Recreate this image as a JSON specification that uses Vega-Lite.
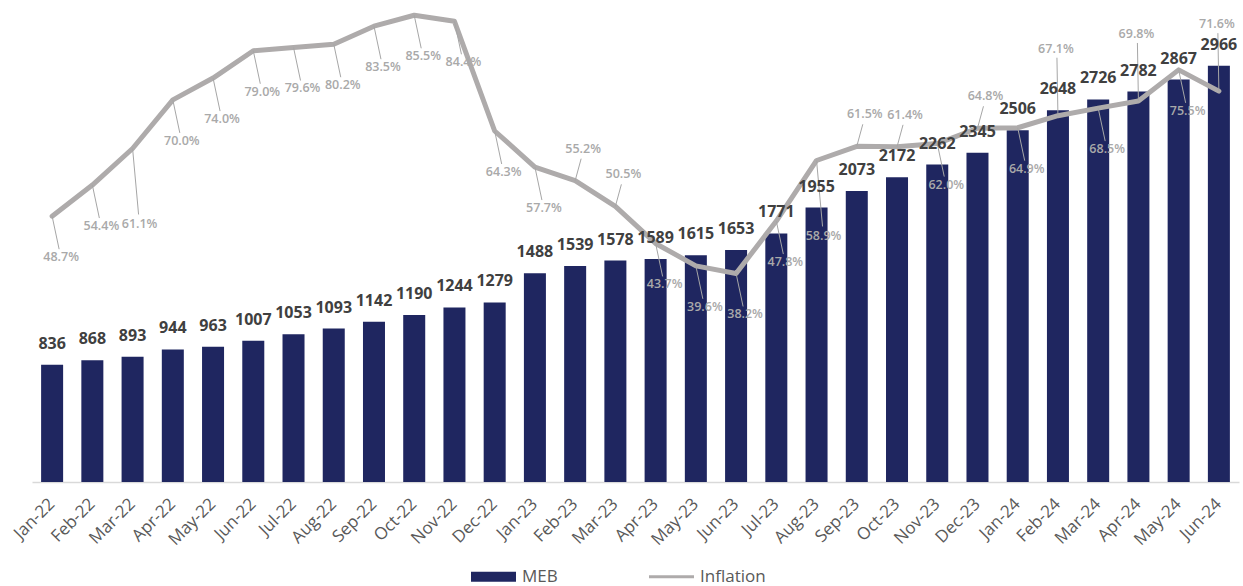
{
  "$schema": "https://vega.github.io/schema/vega-lite/v6.json",
  "width": 1207,
  "height": 482,
  "autosize": {"type": "none"},
  "padding": {"left": 32, "top": 0, "right": 4, "bottom": 104},
  "background": "white",
  "config": {"view": {"stroke": null}, "font": "Open Sans"},
  "data": {"values": [
    {"month": "Jan-22", "meb": 836, "infl": 0.487},
    {"month": "Feb-22", "meb": 868, "infl": 0.544},
    {"month": "Mar-22", "meb": 893, "infl": 0.611},
    {"month": "Apr-22", "meb": 944, "infl": 0.700},
    {"month": "May-22", "meb": 963, "infl": 0.740},
    {"month": "Jun-22", "meb": 1007, "infl": 0.790},
    {"month": "Jul-22", "meb": 1053, "infl": 0.796},
    {"month": "Aug-22", "meb": 1093, "infl": 0.802},
    {"month": "Sep-22", "meb": 1142, "infl": 0.835},
    {"month": "Oct-22", "meb": 1190, "infl": 0.855},
    {"month": "Nov-22", "meb": 1244, "infl": 0.844},
    {"month": "Dec-22", "meb": 1279, "infl": 0.643},
    {"month": "Jan-23", "meb": 1488, "infl": 0.577},
    {"month": "Feb-23", "meb": 1539, "infl": 0.552},
    {"month": "Mar-23", "meb": 1578, "infl": 0.505},
    {"month": "Apr-23", "meb": 1589, "infl": 0.437},
    {"month": "May-23", "meb": 1615, "infl": 0.396},
    {"month": "Jun-23", "meb": 1653, "infl": 0.382},
    {"month": "Jul-23", "meb": 1771, "infl": 0.478},
    {"month": "Aug-23", "meb": 1955, "infl": 0.589},
    {"month": "Sep-23", "meb": 2073, "infl": 0.615},
    {"month": "Oct-23", "meb": 2172, "infl": 0.614},
    {"month": "Nov-23", "meb": 2262, "infl": 0.620},
    {"month": "Dec-23", "meb": 2345, "infl": 0.648},
    {"month": "Jan-24", "meb": 2506, "infl": 0.649},
    {"month": "Feb-24", "meb": 2648, "infl": 0.671},
    {"month": "Mar-24", "meb": 2726, "infl": 0.685},
    {"month": "Apr-24", "meb": 2782, "infl": 0.698},
    {"month": "May-24", "meb": 2867, "infl": 0.755},
    {"month": "Jun-24", "meb": 2966, "infl": 0.716}
  ]},
  "encoding": {
    "x": {
      "field": "month", "type": "ordinal", "sort": null,
      "scale": {"paddingInner": 0.453, "paddingOuter": 0.2265},
      "axis": {
        "title": null, "labelAngle": -45, "labelAlign": "right", "labelBaseline": "middle",
        "labelFont": "Open Sans", "labelFontSize": 17, "labelColor": "#595959",
        "ticks": false, "domainColor": "#D9D9D9", "domainWidth": 1.5, "labelPadding": 19, "grid": false
      }
    }
  },
  "layer": [
    {
      "mark": {"type": "bar"},
      "encoding": {
        "y": {"field": "meb", "type": "quantitative", "scale": {"domain": [0, 3434], "nice": false}, "axis": null},
        "color": {
          "datum": "MEB",
          "scale": {"domain": ["MEB", "Inflation"], "range": ["#1F2660", "#AEABAB"]},
          "legend": {
            "orient": "none", "legendX": 439, "legendY": 554, "direction": "horizontal",
            "title": null, "symbolSize": 2025, "symbolStrokeWidth": 0,
            "labelFont": "Open Sans", "labelFontSize": 17, "labelColor": "#595959",
            "labelOffset": 6, "columnPadding": 91,
            "encode": {"symbols": {"update": {"shape": {"signal": "datum.label === 'MEB' ? 'M-1,-0.22H1V0.22H-1Z' : 'M-1,-0.065H1V0.065H-1Z'"}}}}
          }
        }
      }
    },
    {
      "mark": {"type": "line", "stroke": "#AEABAB", "strokeWidth": 5, "strokeJoin": "round", "strokeCap": "round"},
      "encoding": {
        "y": {"field": "infl", "type": "quantitative", "scale": {"domain": [0, 0.883], "nice": false}, "axis": null}
      }
    },
    {
      "transform": [{"filter": "indexof(['Feb-23','Mar-23','Sep-23','Oct-23','Dec-23','Feb-24','Apr-24','Jun-24','Mar-22','Aug-23'], datum.month) < 0"}],
      "mark": {"type": "rule", "stroke": "#A6A6A6", "strokeWidth": 1, "x2Offset": 7, "y2Offset": 33},
      "encoding": {
        "x2": {"field": "month"},
        "y": {"field": "infl", "type": "quantitative", "scale": {"domain": [0, 0.883], "nice": false}, "axis": null},
        "y2": {"field": "infl"}
      }
    },
    {
      "transform": [{"filter": "indexof(['Feb-23','Mar-23','Sep-23','Oct-23','Dec-23','Feb-24','Apr-24','Jun-24','Mar-22','Aug-23'], datum.month) < 0"}],
      "mark": {"type": "text", "font": "Open Sans", "fontSize": 12.5, "fontWeight": 600, "color": "#A9A9A9", "dx": 9, "dy": 41},
      "encoding": {
        "y": {"field": "infl", "type": "quantitative", "scale": {"domain": [0, 0.883], "nice": false}, "axis": null},
        "text": {"field": "infl", "format": ".1%"}
      }
    },
    {
      "transform": [{"filter": "indexof(['Mar-22','Aug-23'], datum.month) >= 0"}],
      "mark": {"type": "rule", "stroke": "#A6A6A6", "strokeWidth": 1, "x2Offset": 6, "y2Offset": 66},
      "encoding": {
        "x2": {"field": "month"},
        "y": {"field": "infl", "type": "quantitative", "scale": {"domain": [0, 0.883], "nice": false}, "axis": null},
        "y2": {"field": "infl"}
      }
    },
    {
      "transform": [{"filter": "indexof(['Mar-22','Aug-23'], datum.month) >= 0"}],
      "mark": {"type": "text", "font": "Open Sans", "fontSize": 12.5, "fontWeight": 600, "color": "#A9A9A9", "dx": 7, "dy": 76},
      "encoding": {
        "y": {"field": "infl", "type": "quantitative", "scale": {"domain": [0, 0.883], "nice": false}, "axis": null},
        "text": {"field": "infl", "format": ".1%"}
      }
    },
    {
      "transform": [{"filter": "indexof(['Feb-23','Mar-23','Sep-23','Oct-23','Dec-23'], datum.month) >= 0"}],
      "mark": {"type": "rule", "stroke": "#A6A6A6", "strokeWidth": 1, "x2Offset": 6, "y2Offset": -22},
      "encoding": {
        "x2": {"field": "month"},
        "y": {"field": "infl", "type": "quantitative", "scale": {"domain": [0, 0.883], "nice": false}, "axis": null},
        "y2": {"field": "infl"}
      }
    },
    {
      "transform": [{"filter": "indexof(['Feb-23','Mar-23','Sep-23','Oct-23','Dec-23'], datum.month) >= 0"}],
      "mark": {"type": "text", "font": "Open Sans", "fontSize": 12.5, "fontWeight": 600, "color": "#A9A9A9", "dx": 8, "dy": -32},
      "encoding": {
        "y": {"field": "infl", "type": "quantitative", "scale": {"domain": [0, 0.883], "nice": false}, "axis": null},
        "text": {"field": "infl", "format": ".1%"}
      }
    },
    {
      "transform": [{"filter": "indexof(['Feb-24','Apr-24','Jun-24'], datum.month) >= 0"}],
      "mark": {"type": "rule", "stroke": "#A6A6A6", "strokeWidth": 1, "x2Offset": -1, "y2Offset": -58},
      "encoding": {
        "x2": {"field": "month"},
        "y": {"field": "infl", "type": "quantitative", "scale": {"domain": [0, 0.883], "nice": false}, "axis": null},
        "y2": {"field": "infl"}
      }
    },
    {
      "transform": [{"filter": "indexof(['Feb-24','Apr-24','Jun-24'], datum.month) >= 0"}],
      "mark": {"type": "text", "font": "Open Sans", "fontSize": 12.5, "fontWeight": 600, "color": "#A9A9A9", "dx": -2, "dy": -67},
      "encoding": {
        "y": {"field": "infl", "type": "quantitative", "scale": {"domain": [0, 0.883], "nice": false}, "axis": null},
        "text": {"field": "infl", "format": ".1%"}
      }
    },
    {
      "mark": {"type": "text", "font": "Open Sans", "fontSize": 16, "fontWeight": "bold", "color": "#404040", "baseline": "alphabetic", "dy": -16},
      "encoding": {
        "y": {"field": "meb", "type": "quantitative", "scale": {"domain": [0, 3434], "nice": false}, "axis": null},
        "text": {"field": "meb"}
      }
    }
  ],
  "resolve": {"scale": {"y": "independent"}}
}
